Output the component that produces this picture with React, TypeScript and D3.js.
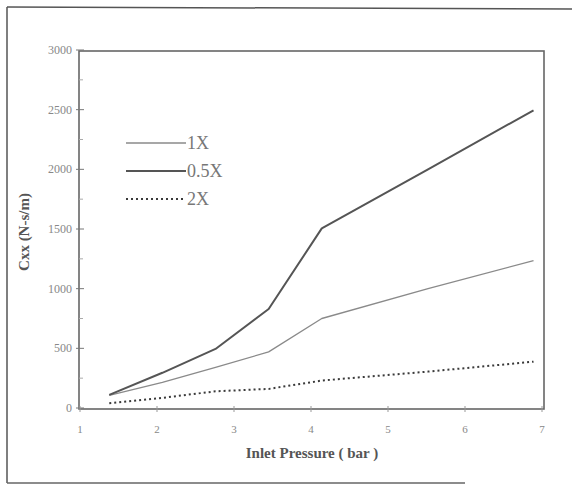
import React from "react";
import * as d3 from "d3";

// Inlet pressure (bar) at which Cxx was evaluated
const pressures = [1.38, 2.07, 2.76, 3.45, 4.14, 5.52, 6.89];
// Cxx (N-s/m) for each clearance multiplier
const series1X = [105, 215, 340, 470, 750, 1000, 1235];
const series05X = [110, 295, 495, 830, 1505, 2000, 2495];
const series2X = [40, 85, 140, 160, 230, 305, 388];
const xTicks = [1, 2, 3, 4, 5, 6, 7];
const yTicks = [0, 500, 1000, 1500, 2000, 2500, 3000];
const seriesNames = ["1X", "0.5X", "2X"];

const W = 572;
const H = 487;

export default function App() {
  const x = d3.scaleLinear().domain([1, 7]).range([80, 542]);
  const y = d3.scaleLinear().domain([0, 3000]).range([408, 50]);
  const line = d3
    .line<number>()
    .x((_, i) => x(pressures[i]))
    .y((d) => y(d));

  const styles = [
    { data: series1X, stroke: "#8a8a8a", width: 1.3, dash: undefined },
    { data: series05X, stroke: "#555", width: 2, dash: undefined },
    { data: series2X, stroke: "#3a3a3a", width: 2, dash: "2,3" },
  ];

  const minorTicks = d3.range(250, 3000, 500);
  const font = "'Liberation Serif', 'Times New Roman', serif";

  return (
    <svg
      width={W}
      height={H}
      style={{ position: "absolute", left: 0, top: 0, background: "#fff" }}
      fontFamily={font}
    >
      {/* outer figure border */}
      <line x1={7} y1={7} x2={572} y2={9} stroke="#555" strokeWidth={1.5} />
      <line x1={7} y1={7} x2={7} y2={483} stroke="#555" strokeWidth={1.5} />
      <line x1={7} y1={483} x2={465} y2={483} stroke="#666" strokeWidth={1.5} />

      {/* plot frame */}
      <rect x={79} y={51} width={465} height={358} fill="none" stroke="#666" strokeWidth={1.6} />

      {/* y ticks and labels */}
      {yTicks.map((t) => (
        <g key={"y" + t}>
          <line x1={76} x2={84} y1={y(t)} y2={y(t)} stroke="#777" strokeWidth={1} />
          <text x={72} y={y(t) + 4} textAnchor="end" fontSize={12} fill="#888">
            {t}
          </text>
        </g>
      ))}
      {minorTicks.map((t) => (
        <line key={"m" + t} x1={79} x2={83} y1={y(t)} y2={y(t)} stroke="#aaa" strokeWidth={1} />
      ))}

      {/* x ticks and labels */}
      {xTicks.map((t) => (
        <g key={"x" + t}>
          <line x1={x(t)} x2={x(t)} y1={406} y2={412} stroke="#999" strokeWidth={1} />
          <text x={x(t)} y={433} textAnchor="middle" fontSize={11} fill="#888">
            {t}
          </text>
        </g>
      ))}

      {/* series lines */}
      {styles.map((s, i) => (
        <path
          key={seriesNames[i]}
          d={line(s.data) || ""}
          fill="none"
          stroke={s.stroke}
          strokeWidth={s.width}
          strokeDasharray={s.dash}
          strokeLinejoin="round"
        />
      ))}

      {/* legend */}
      {styles.map((s, i) => {
        const ly = 143 + i * 28;
        return (
          <g key={"lg" + i}>
            <line
              x1={126}
              x2={186}
              y1={ly}
              y2={ly}
              stroke={s.stroke}
              strokeWidth={s.width}
              strokeDasharray={s.dash}
            />
            <text x={187} y={ly + 6} fontSize={18} fill="#777">
              {seriesNames[i]}
            </text>
          </g>
        );
      })}

      {/* axis titles */}
      <text x={312} y={458} textAnchor="middle" fontSize={15} fontWeight="bold" fill="#555">
        Inlet Pressure ( bar )
      </text>
      <text
        transform="translate(29,232) rotate(-90)"
        textAnchor="middle"
        fontSize={15}
        fontWeight="bold"
        fill="#555"
      >
        Cxx (N-s/m)
      </text>
    </svg>
  );
}
